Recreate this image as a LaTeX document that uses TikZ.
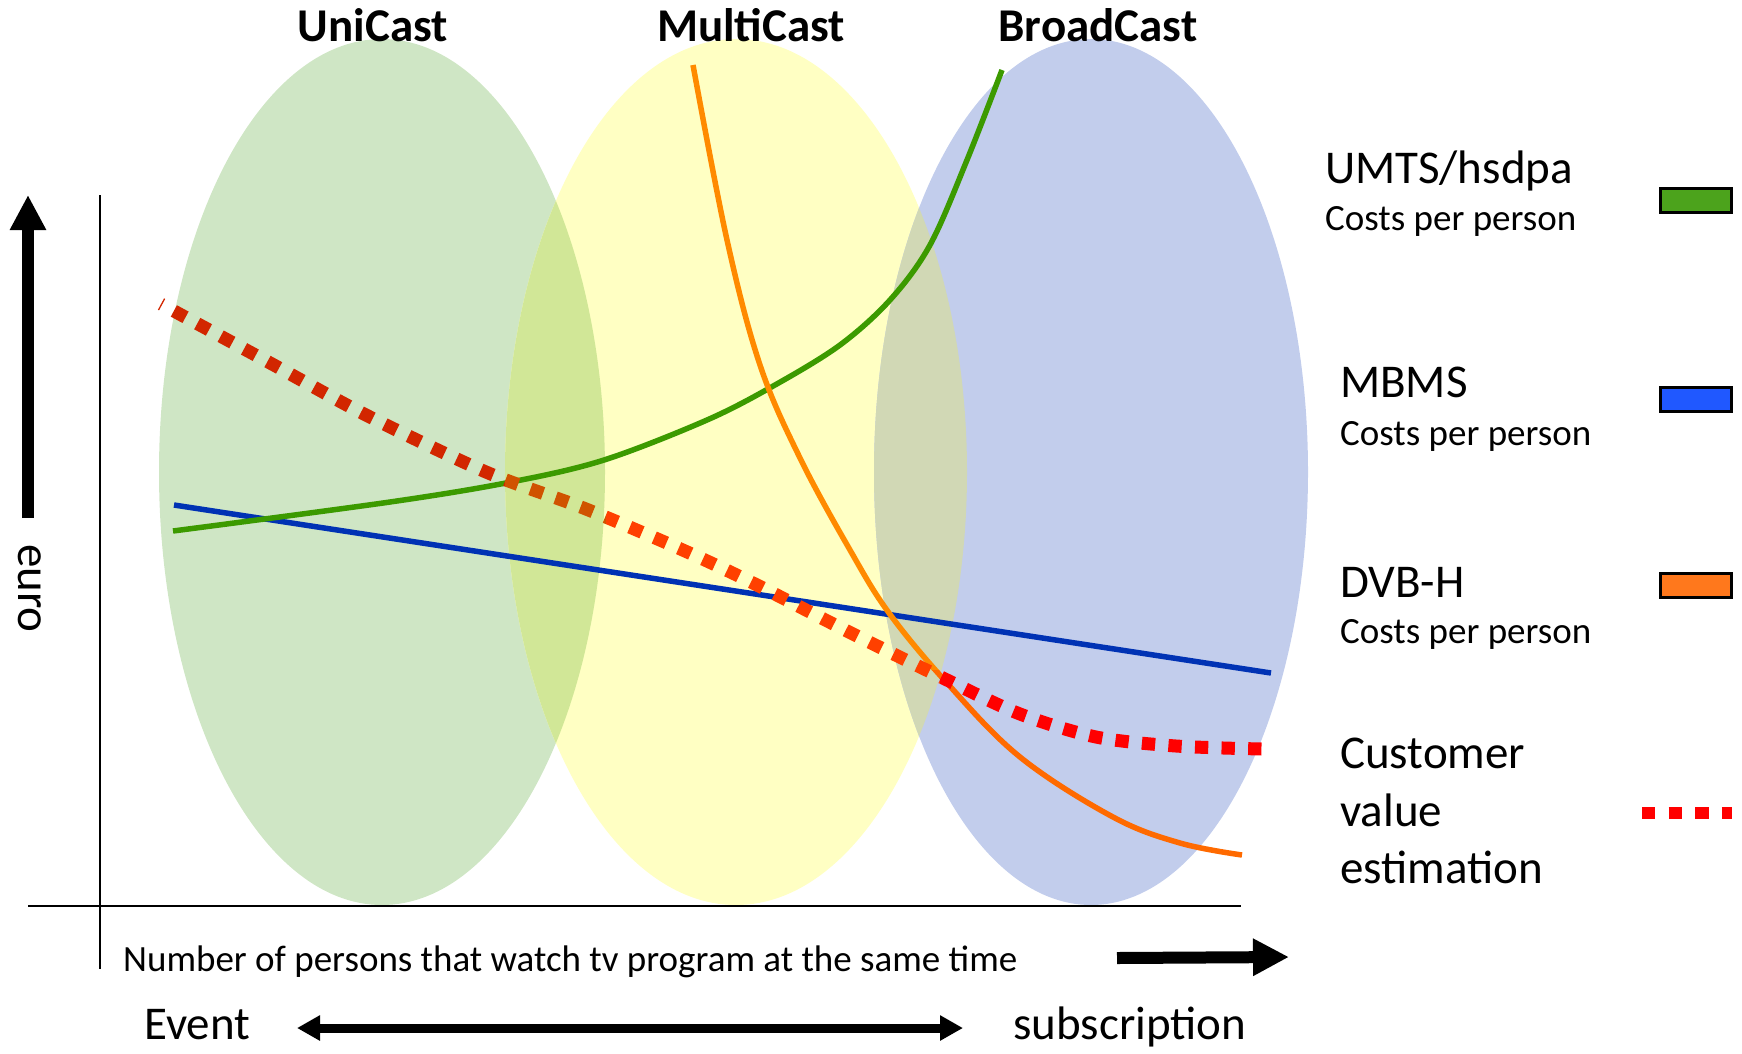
\documentclass[tikz,border=0pt]{standalone}
\usepackage{fontspec}
\setmainfont{Carlito}
\usetikzlibrary{arrows.meta}
\definecolor{ellG}{HTML}{CFE6C5}
\definecolor{ellY}{HTML}{FFFFC3}
\definecolor{ellB}{HTML}{C2CDEC}
\definecolor{ovGY}{HTML}{D1E797}
\definecolor{ovYB}{HTML}{D1D8B5}
\definecolor{curG}{HTML}{3C9A00}
\definecolor{curB}{HTML}{0032B4}
\definecolor{curOa}{HTML}{FF8A00}
\definecolor{curOb}{HTML}{FF6A00}
\definecolor{redA}{HTML}{D22600}
\definecolor{redB}{HTML}{D05300}
\definecolor{redC}{HTML}{FF4000}
\definecolor{redD}{HTML}{FF0000}
\definecolor{legG}{HTML}{4CA31C}
\definecolor{legB}{HTML}{2058FF}
\definecolor{legO}{HTML}{FF781C}
\begin{document}
\begin{tikzpicture}[x=1pt,y=-1pt,
  titletext/.style={font=\fontsize{47}{56}\selectfont\bfseries, inner sep=0pt, anchor=base},
  bigtext/.style={font=\fontsize{47}{56}\selectfont, inner sep=0pt, anchor=base west},
  smalltext/.style={font=\fontsize{37}{44}\selectfont, inner sep=0pt, anchor=base west},
  swatch/.style={draw=black, line width=3pt, minimum width=71pt, minimum height=24pt, inner sep=0pt},
  costline/.style={line width=5.5pt},
  cvest/.style={line width=13pt, dash pattern=on 13.3pt off 13.3pt, dash phase=12pt},
  axisline/.style={line width=2pt, black},
  bigarrow/.style={line width=12pt, black}
]
\useasboundingbox (0,0) rectangle (1742,1053);

% ellipses
\fill[ellG] (382,472) ellipse [x radius=223, y radius=433];
\fill[ellY] (736,472) ellipse [x radius=231, y radius=433];
\fill[ellB] (1091,472) ellipse [x radius=217, y radius=433];
\begin{scope}
  \clip (382,472) ellipse [x radius=223, y radius=433];
  \fill[ovGY] (736,472) ellipse [x radius=231, y radius=433];
\end{scope}
\begin{scope}
  \clip (736,472) ellipse [x radius=231, y radius=433];
  \fill[ovYB] (1091,472) ellipse [x radius=217, y radius=433];
\end{scope}

% titles
\node[titletext] (uni) at (373,41) {UniCast};
\node[titletext] (multi) at (751,41) {MultiCast};
\node[titletext] (broad) at (1098,41) {BroadCast};

% axes
\coordinate (ytop) at (100,195);
\coordinate (ybot) at (100,969);
\coordinate (xleft) at (28,906);
\coordinate (xright) at (1241,906);
\draw[axisline] (ytop) -- (ybot);
\draw[axisline] (xleft) -- (xright);

% blue MBMS line
\coordinate (bstart) at (174,505);
\coordinate (bend) at (1271,673);
\draw[costline, curB] (bstart) -- (bend);

% green UMTS curve
\draw[costline, curG] plot[smooth, tension=0.55] coordinates {(173,531) (390,502) (511,482) (604,460) (707,420) (775,385) (840,345) (890,300) (930,245) (967,160) (1002,70)};

% orange DVB-H curve
\foreach \ya/\yb/\col in {0/670/curOa, 670/1053/curOb}{
  \begin{scope}
    \clip (0,\ya) rectangle (1742,\yb);
    \draw[costline, \col] plot[smooth, tension=0.6] coordinates {(693,65) (727,240) (760,365) (800,458) (850,550) (889,613) (947,683) (1020,757) (1113,817) (1180,843) (1242,855)};
  \end{scope}
}

% red customer value estimation curve
\foreach \xa/\xb/\col in {0/505/redA, 505/606/redB, 606/940/redC, 940/1742/redD}{
  \begin{scope}
    \clip (\xa,0) rectangle (\xb,1053);
    \draw[cvest, \col] plot[smooth, tension=0.5] coordinates {(161,304) (272,364) (366,415) (486,472) (586,509) (685,551) (755,584) (851,633) (947,680) (1020,714) (1096,737) (1176,746) (1262,749)};
  \end{scope}
}

% legend
\node[bigtext] (umts) at (1325,183) {UMTS/hsdpa};
\node[smalltext] (umtsc) at (1325,230) {Costs per person};
\node[bigtext] (mbms) at (1340,397) {MBMS};
\node[smalltext] (mbmsc) at (1340,445) {Costs per person};
\node[bigtext] (dvbh) at (1340,597) {DVB-H};
\node[smalltext] (dvbhc) at (1340,643) {Costs per person};
\node[bigtext] (cve1) at (1340,768) {Customer};
\node[bigtext] (cve2) at (1340,826) {value};
\node[bigtext] (cve3) at (1340,883) {estimation};

\node[swatch, fill=legG] (swG) at (1695.5,200) {};
\node[swatch, fill=legB] (swB) at (1695.5,399.5) {};
\node[swatch, fill=legO] (swO) at (1695.5,585) {};
\coordinate (swRa) at (1642,812.5);
\coordinate (swRb) at (1732,812.5);
\draw[line width=12pt, redD, dash pattern=on 13.3pt off 13.3pt] (swRa) -- (swRb);

% euro axis arrow
\coordinate (eurobot) at (28,518);
\coordinate (eurotop) at (28,195);
\draw[bigarrow, -{Triangle[length=35pt, width=34pt]}] (eurobot) -- (eurotop);
\node[font=\fontsize{47}{56}\selectfont, inner sep=0pt, rotate=-90, anchor=base west] (euro) at (18,544) {euro};

% x axis caption and arrow
\node[font=\fontsize{37}{44}\selectfont, inner sep=0pt, anchor=base west] (xcap) at (123,971) {Number of persons that watch tv program at the same time};
\coordinate (xarA) at (1117,958);
\coordinate (xarB) at (1289,957);
\draw[bigarrow, -{Triangle[length=36pt, width=35pt]}] (xarA) -- (xarB);

% event / subscription
\node[bigtext] (event) at (144,1039) {Event};
\node[bigtext] (subs) at (1013,1039) {subscription};
\coordinate (evA) at (297,1028);
\coordinate (evB) at (963,1028);
\draw[line width=9pt, black, {Triangle[length=23pt, width=24pt]}-{Triangle[length=23pt, width=24pt]}] (evA) -- (evB);
\end{tikzpicture}
\end{document}
